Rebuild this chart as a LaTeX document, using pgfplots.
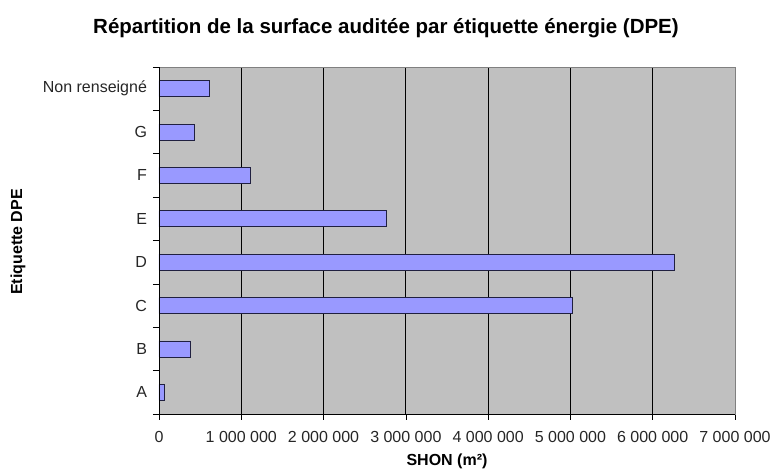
\documentclass[border=0pt]{standalone}
\usepackage{fontspec}
\setmainfont{Liberation Sans}
\usepackage{pgfplots}
\pgfplotsset{compat=1.18}
\definecolor{barfill}{HTML}{9999FF}
\definecolor{baredge}{HTML}{202040}
\definecolor{bg}{HTML}{C0C0C0}
\definecolor{frame}{HTML}{808080}
\begin{document}
\begin{tikzpicture}[x=1pt,y=1pt]
\path[use as bounding box] (-159,-56) rectangle (613,414);
\begin{axis}[
  at={(0,0)}, anchor=south west,
  scale only axis, width=576pt, height=347pt,
  xbar, bar width=16pt,
  xmin=0, xmax=7000000, ymin=-0.5, ymax=7.5,
  axis background/.style={fill=bg},
  axis line style={draw=frame, line width=0.6pt},
  xmajorgrids=true,
  grid style={black, line width=0.8pt},
  xtick={0,1000000,2000000,3000000,4000000,5000000,6000000,7000000},
  scaled x ticks=false,
  /pgf/number format/.cd, fixed, precision=0, 1000 sep={\ }, assume math mode=true,
  /pgfplots/.cd,
  ytick={0,1,2,3,4,5,6,7},
  yticklabels={A,B,C,D,E,F,G,Non renseigné},
  minor ytick={-0.5,0.5,1.5,2.5,3.5,4.5,5.5,6.5,7.5},
  major tick length=6pt, minor tick length=6pt,
  tick align=outside,
  xtick pos=bottom, ytick pos=left,
  tick style={black, line width=0.7pt},
  y tick style={draw=none},
  minor y tick style={draw=black, line width=0.7pt},
  ticklabel style={font=\fontsize{16}{19}\selectfont, text=black!85},
  xticklabel style={yshift=-7.5pt},
  yticklabel style={xshift=-2.5pt},
  clip=false,
]
\addplot[fill=barfill, draw=baredge, line width=0.8pt] coordinates {
  (60000,0) (386000,1) (5020000,2) (6260000,3) (2760000,4) (1113000,5) (435000,6) (614000,7)
};
\draw[black, line width=0.8pt] (rel axis cs:0,0) -- (rel axis cs:0,1);
\draw[black, line width=0.8pt] (rel axis cs:0,0) -- (rel axis cs:1,0);
\end{axis}
\node[font=\bfseries\fontsize{20.5}{24}\selectfont] at (227,386) {Répartition de la surface auditée par étiquette énergie (DPE)};
\node[rotate=90, font=\bfseries\fontsize{16}{19}\selectfont] at (-141,172) {Etiquette DPE};
\node[anchor=base, font=\bfseries\fontsize{16}{19}\selectfont] at (288,-51.5) {SHON (m²)};
\end{tikzpicture}
\end{document}
